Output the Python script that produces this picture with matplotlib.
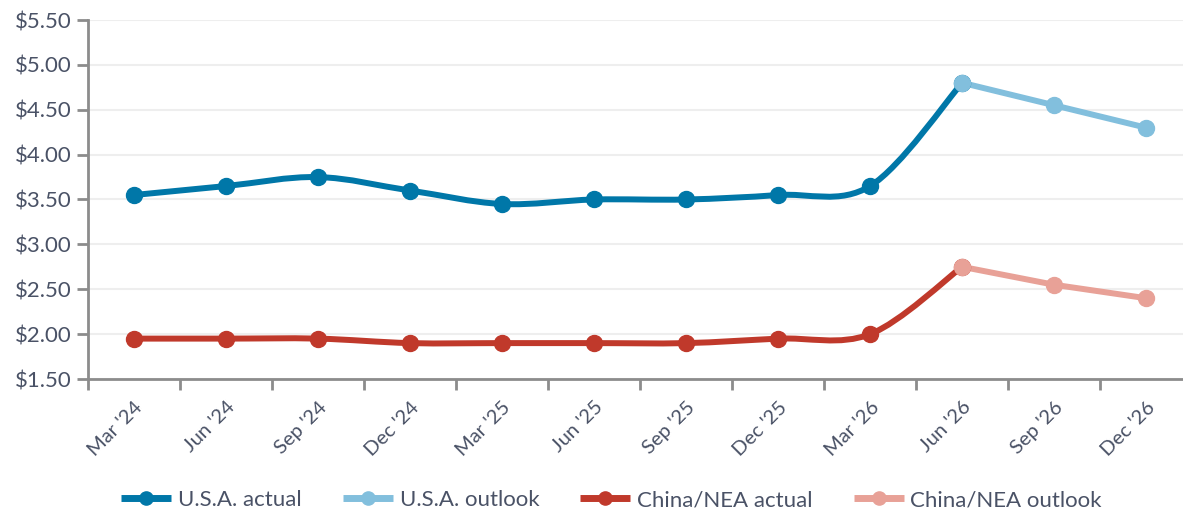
import numpy as np
import matplotlib
matplotlib.use('Agg')
import matplotlib.pyplot as plt
from matplotlib.path import Path
from matplotlib.patches import PathPatch
from matplotlib.lines import Line2D

categories = ["Mar '24", "Jun '24", "Sep '24", "Dec '24", "Mar '25", "Jun '25",
              "Sep '25", "Dec '25", "Mar '26", "Jun '26", "Sep '26", "Dec '26"]
usa_actual = [3.55, 3.65, 3.75, 3.60, 3.45, 3.50, 3.50, 3.55, 3.65, 4.80]
usa_outlook = [4.80, 4.55, 4.30]
china_actual = [1.95, 1.95, 1.95, 1.90, 1.90, 1.90, 1.90, 1.95, 2.00, 2.75]
china_outlook = [2.75, 2.55, 2.40]

USA_DARK = '#0077A8'
USA_LIGHT = '#82BFDD'
CHN_DARK = '#C0392B'
CHN_LIGHT = '#E8A197'
TEXT = '#4A5266'
AXIS = '#8C8C8C'


def smooth_path(xs, ys):
    # Excel style smoothed line: cubic bezier with catmull-rom tangents
    pts = np.column_stack([xs, ys]).astype(float)
    n = len(pts)
    verts = [pts[0]]
    codes = [Path.MOVETO]
    for i in range(n - 1):
        p0 = pts[max(i - 1, 0)]
        p1 = pts[i]
        p2 = pts[i + 1]
        p3 = pts[min(i + 2, n - 1)]
        c1 = p1 + (p2 - p0) / 6.0
        c2 = p2 - (p3 - p1) / 6.0
        verts += [c1, c2, p2]
        codes += [Path.CURVE4] * 3
    return Path(verts, codes)


def main():
    plt.rcParams['font.family'] = ['Lato', 'DejaVu Sans']
    fig = plt.figure(figsize=(11.83, 5.11), dpi=100)
    ax = fig.add_axes([88 / 1183, 132 / 511, 1 - 88 / 1183, 359 / 511])

    x_all = np.arange(len(categories))
    xa = x_all[:len(usa_actual)]
    xo = x_all[len(usa_actual) - 1:]

    lw = 4.3
    ms = 11.5

    for ya, yo, dark, light in [(usa_actual, usa_outlook, USA_DARK, USA_LIGHT),
                                (china_actual, china_outlook, CHN_DARK, CHN_LIGHT)]:
        patch = PathPatch(smooth_path(xa, ya), fill=False, edgecolor=dark,
                          lw=lw, capstyle='round', joinstyle='round', zorder=3)
        ax.add_patch(patch)
        ax.plot(xa, ya, ls='none', marker='o', ms=ms, color=dark, zorder=4)
        ax.plot(xo, yo, color=light, lw=lw, solid_capstyle='round', zorder=3)
        ax.plot(xo, yo, ls='none', marker='o', ms=ms, color=light, zorder=5)

    ax.set_xlim(-0.5, 11.4)
    ax.set_ylim(1.5, 5.5)
    ax.set_yticks(np.arange(1.5, 5.51, 0.5))
    ax.set_yticklabels(['${:.2f}'.format(v) for v in np.arange(1.5, 5.51, 0.5)])
    ax.grid(axis='y', color='#EEEEEE', lw=1.5, zorder=0)
    ax.set_axisbelow(True)

    ax.set_xticks(x_all)
    ax.set_xticklabels(categories, rotation=45, ha='right', rotation_mode='anchor')
    ax.set_xticks(np.arange(-0.5, 11.0, 1.0), minor=True)
    ax.tick_params(axis='x', which='major', length=0, pad=14,
                   labelsize=14.5, labelcolor=TEXT)
    ax.tick_params(axis='x', which='minor', length=8, width=2, color=AXIS)
    ax.tick_params(axis='y', length=8, width=2, color=AXIS,
                   labelsize=16, labelcolor=TEXT, pad=4)

    for s in ['top', 'right']:
        ax.spines[s].set_visible(False)
    for s in ['left', 'bottom']:
        ax.spines[s].set_color(AXIS)
        ax.spines[s].set_linewidth(2)

    handles = [Line2D([], [], color=c, lw=5, marker='o', ms=9.5,
                      solid_capstyle='butt')
               for c in [USA_DARK, USA_LIGHT, CHN_DARK, CHN_LIGHT]]
    labels = ['U.S.A. actual', 'U.S.A. outlook', 'China/NEA actual', 'China/NEA outlook']
    leg = fig.legend(handles, labels, loc='center', bbox_to_anchor=(0.517, 11 / 511),
                     ncol=4, frameon=False, fontsize=16, handlelength=2.25,
                     handletextpad=0.3, columnspacing=1.85)
    for t in leg.get_texts():
        t.set_color(TEXT)

    fig.savefig('out.png', dpi=100)


if __name__ == '__main__':
    main()
